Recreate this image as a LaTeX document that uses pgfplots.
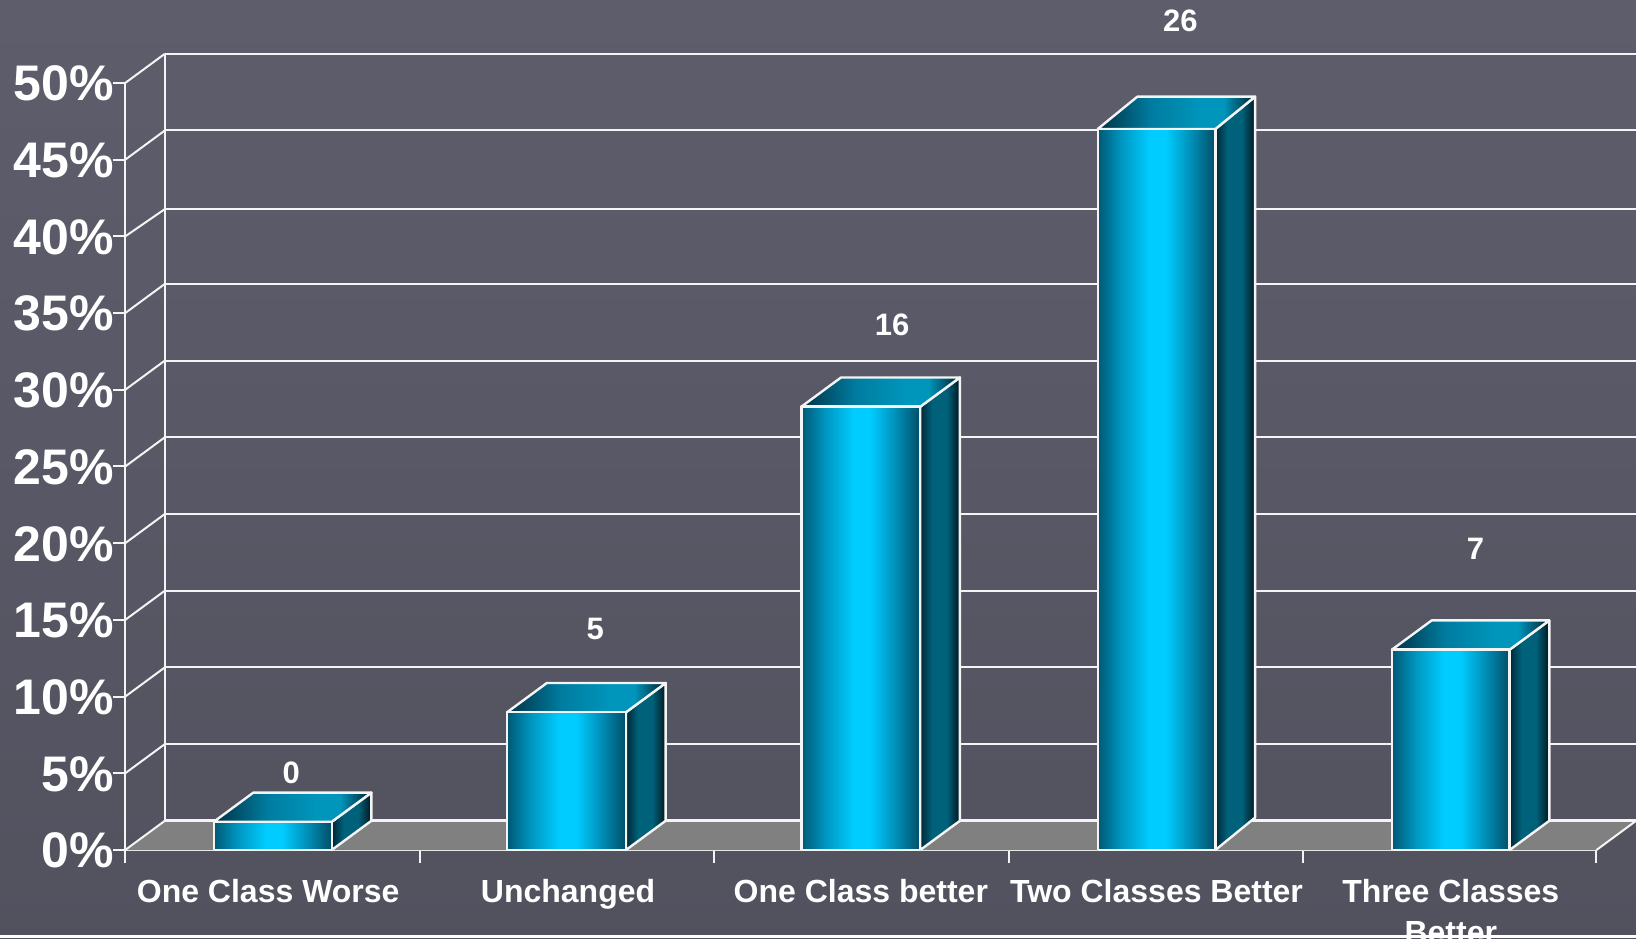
\documentclass[border=0pt]{standalone}
\usepackage{fontspec}
\setmainfont{Liberation Sans}
\usepackage{pgfplots}
\pgfplotsset{compat=1.18}

% Backdrop colours
\definecolor{bgtop}{RGB}{93,93,108}
\definecolor{bgbot}{RGB}{82,82,95}
\definecolor{floorgrey}{RGB}{128,128,128}
\definecolor{rule}{RGB}{244,244,244}

% Cylinder-like horizontal shadings for the three visible faces of a bar.
% The path's own extent maps to the range 25bp-75bp.
\definecolor{fa}{RGB}{0,88,116}
\definecolor{fb}{RGB}{0,150,192}
\definecolor{fc}{RGB}{0,204,255}
\definecolor{fd}{RGB}{0,140,180}
\definecolor{fe}{RGB}{0,78,102}
\pgfdeclarehorizontalshading{barfront}{100bp}{
  color(0bp)=(fa); color(25bp)=(fa); color(35bp)=(fb); color(47bp)=(fc);
  color(54bp)=(fc); color(65bp)=(fd); color(75bp)=(fe); color(100bp)=(fe)}
\definecolor{sa}{RGB}{0,38,54}
\definecolor{sb}{RGB}{0,98,122}
\definecolor{sc}{RGB}{0,22,32}
\pgfdeclarehorizontalshading{barside}{100bp}{
  color(0bp)=(sa); color(25bp)=(sa); color(40bp)=(sb); color(58bp)=(sb);
  color(75bp)=(sc); color(100bp)=(sc)}
\definecolor{ta}{RGB}{0,50,68}
\definecolor{tb}{RGB}{0,124,160}
\definecolor{tc}{RGB}{0,150,188}
\definecolor{td}{RGB}{0,30,42}
\pgfdeclarehorizontalshading{bartop}{100bp}{
  color(0bp)=(ta); color(25bp)=(ta); color(42bp)=(tb); color(58bp)=(tc);
  color(65bp)=(tc); color(75bp)=(td); color(100bp)=(td)}

% One box: left edge, right edge, height, and the y extent of its depth
% (the x extent of the depth is 0.1348).
\newcommand{\solidbar}[4]{%
  \pgfmathsetmacro{\xb}{#2+0.1348}%
  \pgfmathsetmacro{\xc}{#1+0.1348}%
  \pgfmathsetmacro{\yb}{#3+#4}%
  \addplot[draw=rule,line width=2.4pt,line join=round,shading=barside] coordinates {(#2,0) (\xb,#4) (\xb,\yb) (#2,#3)} -- cycle;
  \addplot[draw=rule,line width=2.4pt,line join=round,shading=bartop] coordinates {(#1,#3) (#2,#3) (\xb,\yb) (\xc,\yb)} -- cycle;
  \addplot[draw=rule,line width=2.4pt,line join=round,shading=barfront] coordinates {(#1,0) (#2,0) (#2,#3) (#1,#3)} -- cycle;
}

\begin{document}
\begin{tikzpicture}[x=1pt,y=1pt]
\path[use as bounding box] (0,0) rectangle (1636,938);
\begin{scope}
\clip (0,0) rectangle (1636,938);
\shade[top color=bgtop,bottom color=bgbot] (0,0) rectangle (1636,938);
\begin{axis}[
  at={(125.2pt,88pt)}, anchor=south west,
  scale only axis, width=1471.3pt, height=767pt,
  xmin=0, xmax=5, ymin=0, ymax=50,
  clip=false,
  axis lines*=left,
  axis line style={draw=rule,line width=2.2pt,-},
  no markers,
  ytick={0,5,...,50},
  yticklabels={0\%,5\%,10\%,15\%,20\%,25\%,30\%,35\%,40\%,45\%,50\%},
  major tick length=12pt,
  tick align=outside,
  ytick style={draw=rule,line width=2pt},
  yticklabel style={inner sep=0pt,font=\fontsize{50}{50}\selectfont\bfseries,text=white,anchor=east,xshift=1pt,yshift=-0.6pt},
  xtick={0.486,1.505,2.5,3.505,4.505},
  xticklabels={One Class Worse,Unchanged,One Class better,Two Classes Better,{Three Classes\\Better}},
  xticklabel style={inner sep=0pt,font=\fontsize{32}{41}\selectfont\bfseries,text=white,align=center,anchor=north,yshift=-17pt},
  major x tick style={draw=none},
  minor xtick={0,1.0007,2,3.003,4.003,5},
  minor tick length=13pt,
  minor x tick style={draw=rule,line width=2pt},
]
% floor of the box
\addplot[draw=none,fill=floorgrey] coordinates {(0,0) (5,0) (5.1348,1.905) (0.1348,1.905)} -- cycle;

% back wall: gridlines and their slanted returns to the front axis
\addplot[draw=rule,line width=2pt] coordinates {(0.1348,6.905) (5.1348,6.905)};
\addplot[draw=rule,line width=2pt] coordinates {(0.1348,11.905) (5.1348,11.905)};
\addplot[draw=rule,line width=2pt] coordinates {(0.1348,16.905) (5.1348,16.905)};
\addplot[draw=rule,line width=2pt] coordinates {(0.1348,21.905) (5.1348,21.905)};
\addplot[draw=rule,line width=2pt] coordinates {(0.1348,26.905) (5.1348,26.905)};
\addplot[draw=rule,line width=2pt] coordinates {(0.1348,31.905) (5.1348,31.905)};
\addplot[draw=rule,line width=2pt] coordinates {(0.1348,36.905) (5.1348,36.905)};
\addplot[draw=rule,line width=2pt] coordinates {(0.1348,41.78) (5.1348,41.78)};
\addplot[draw=rule,line width=2pt] coordinates {(0.1348,46.905) (5.1348,46.905)};
\addplot[draw=rule,line width=2pt] coordinates {(0.1348,51.905) (5.1348,51.905)};
\addplot[draw=rule,line width=2pt] coordinates {(0,5) (0.1348,6.905)};
\addplot[draw=rule,line width=2pt] coordinates {(0,10) (0.1348,11.905)};
\addplot[draw=rule,line width=2pt] coordinates {(0,15) (0.1348,16.905)};
\addplot[draw=rule,line width=2pt] coordinates {(0,20) (0.1348,21.905)};
\addplot[draw=rule,line width=2pt] coordinates {(0,25) (0.1348,26.905)};
\addplot[draw=rule,line width=2pt] coordinates {(0,30) (0.1348,31.905)};
\addplot[draw=rule,line width=2pt] coordinates {(0,35) (0.1348,36.905)};
\addplot[draw=rule,line width=2pt] coordinates {(0,40) (0.1348,41.78)};
\addplot[draw=rule,line width=2pt] coordinates {(0,45) (0.1348,46.905)};
\addplot[draw=rule,line width=2pt] coordinates {(0,50) (0.1348,51.905)};
\addplot[draw=rule,line width=2.4pt] coordinates {(0.1348,1.905) (0.1348,51.905)};

% floor outline
\addplot[draw=rule,line width=3pt] coordinates {(0.1348,1.905) (5.1348,1.905)};
\addplot[draw=rule,line width=2pt] coordinates {(0,0) (0.1348,1.905)};
\addplot[draw=rule,line width=2pt] coordinates {(5,0) (5.1348,1.905)};

% the five bars
\solidbar{0.301}{0.702}{1.84}{1.905}
\solidbar{1.298}{1.702}{8.98}{1.905}
\solidbar{2.298}{2.702}{28.9}{1.905}
\solidbar{3.305}{3.705}{47.0}{2.11}
\solidbar{4.305}{4.705}{13.06}{1.905}

% counts printed above the bars
\begin{scope}[every node/.style={text=white,font=\fontsize{31}{31}\selectfont\bfseries,inner sep=0pt}]
\node at (axis cs:0.564,5.03) {0};
\node at (axis cs:1.597,14.42) {5};
\node at (axis cs:2.606,34.22) {16};
\node at (axis cs:3.586,54.07) {26};
\node at (axis cs:4.589,19.66) {7};
\end{scope}
\end{axis}
\end{scope}
% pale strip along the lower edge
\fill[white] (0,0) rectangle (1636,3.5);
\end{tikzpicture}
\end{document}
